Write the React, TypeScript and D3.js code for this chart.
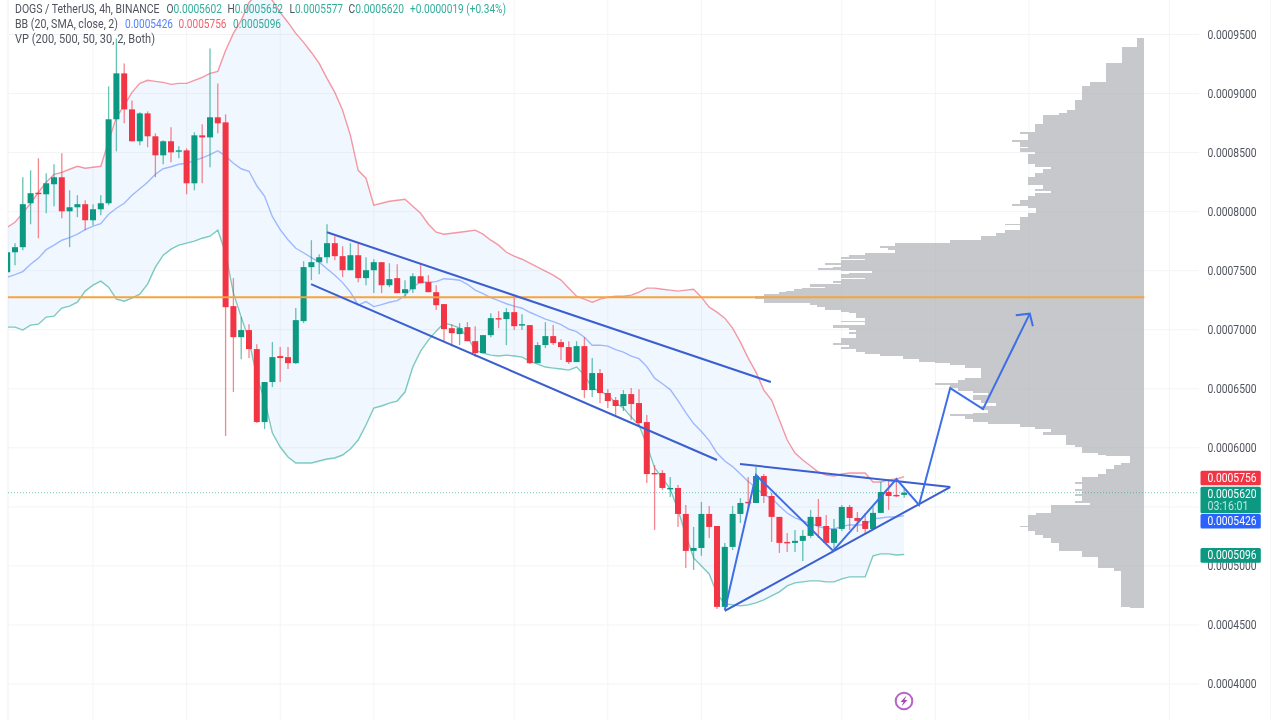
import React, { useLayoutEffect, useRef } from "react";
import * as d3 from "d3";

// Prices are in units of 0.0000001 USDT
const PRICE_UNIT = 1e-7;

const opens = [
  7487,7656,7699,8071,8160,8147,8232,8291,8003,8037,
  8063,7927,8020,8071,8782,9171,8866,8596,8832,8638,
  8477,8596,8511,8519,8240,8646,8629,8799,8756,7200,
  6937,6997,6836,6218,6557,6777,6768,6717,7073,7530,
  7572,7614,7733,7623,7504,7631,7437,7504,7572,7377,
  7437,7310,7343,7453,7403,7318,7217,7013,6963,7022,
  6903,6802,6954,7098,7090,7149,7039,7039,6717,6870,
  6946,6895,6853,6726,6861,6489,6633,6464,6404,6354,
  6455,6379,6218,5787,5787,5651,5660,5440,5127,5152,
  5440,5338,4653,5161,5440,5542,5533,5761,5592,5415,
  5203,5195,5212,5254,5415,5338,5195,5313,5499,5406,
  5381,5313,5449,5626,5601,5602,
];
const highs = [
  7673,7733,8291,8350,8452,8325,8401,8494,8181,8139,
  8096,8063,8139,9061,9467,9255,8942,8841,8849,8663,
  8604,8714,8553,8536,8672,8739,9382,9086,8824,7437,
  7107,7047,6878,6557,6895,6853,6853,7183,7580,7758,
  7640,7893,7792,7707,7733,7733,7614,7597,7572,7563,
  7555,7420,7479,7563,7462,7377,7217,7047,7056,7064,
  7030,6954,7140,7157,7183,7293,7132,7039,6895,7064,
  7039,6920,6903,6903,6937,6760,6667,6497,6430,6489,
  6506,6497,6278,5854,5812,5753,5685,5516,5330,5542,
  5508,5338,5194,5508,5575,5753,5837,5778,5618,5415,
  5279,5305,5305,5474,5567,5431,5398,5516,5516,5457,
  5449,5499,5711,5728,5736,5652,
];
const lows = [
  7479,7547,7673,7893,7775,7986,8046,7944,7699,7953,
  7843,7885,7970,8054,8511,8748,8596,8562,8545,8291,
  8401,8418,8452,8147,8181,8240,8376,8663,6100,6472,
  6751,6760,6210,6159,6514,6557,6667,6709,7056,7420,
  7470,7563,7589,7445,7504,7403,7377,7310,7310,7360,
  7310,7267,7310,7394,7318,7166,6903,6861,6870,6903,
  6768,6802,6937,7013,6870,6997,6997,6709,6717,6844,
  6870,6743,6709,6726,6421,6430,6379,6337,6278,6311,
  6235,6176,5702,5305,5643,5584,5330,4983,4966,5085,
  5237,4636,4653,5135,5364,5474,5533,5533,5203,5110,
  5118,5118,5042,5237,5237,5186,5135,5296,5305,5288,
  5279,5313,5449,5474,5584,5577,
];
const closes = [
  7656,7699,8063,8156,8152,8240,8291,8003,8037,8063,
  7927,8020,8071,8782,9171,8866,8596,8832,8638,8477,
  8596,8502,8519,8240,8646,8629,8799,8748,7191,6937,
  6997,6836,6218,6557,6768,6760,6717,7081,7530,7572,
  7614,7733,7623,7504,7631,7437,7504,7572,7377,7428,
  7310,7343,7453,7394,7318,7208,7005,6971,7013,6903,
  6802,6954,7098,7090,7149,7030,7047,6717,6870,6946,
  6887,6853,6726,6861,6489,6633,6464,6396,6354,6455,
  6371,6210,5778,5778,5660,5660,5440,5127,5152,5440,
  5330,4653,5161,5440,5533,5533,5761,5592,5415,5195,
  5195,5212,5254,5415,5338,5195,5313,5499,5406,5381,
  5313,5449,5626,5592,5592,5620,
];

const bbUpper = [
  7868,7910,7986,8071,8164,8249,8316,8333,8359,8384,
  8367,8376,8384,8596,8799,8900,9010,9086,9112,9103,
  9095,9078,9086,9086,9112,9137,9171,9188,9365,9509,
  9619,9771,9839,9856,9788,9687,9602,9509,9433,9348,
  9255,9128,9010,8858,8646,8350,8283,8054,8071,8088,
  8096,8105,8046,7986,7893,7826,7809,7817,7826,7834,
  7843,7809,7758,7716,7656,7623,7597,7563,7530,7496,
  7462,7420,7352,7284,7259,7233,7259,7276,7284,7284,
  7293,7318,7352,7352,7343,7335,7327,7335,7343,7276,
  7191,7149,7098,7013,6895,6760,6641,6489,6404,6235,
  6066,5956,5897,5846,5795,5770,5761,5778,5787,5787,
  5787,5711,5711,5728,5736,5756,
];
const bbLower = [
  7022,7022,6997,7039,7047,7107,7115,7183,7200,7233,
  7327,7377,7411,7360,7259,7242,7267,7301,7386,7530,
  7631,7682,7716,7733,7750,7775,7792,7843,7648,7310,
  7107,6912,6599,6404,6125,6007,5922,5871,5871,5871,
  5888,5905,5914,5939,5990,6066,6193,6337,6354,6379,
  6396,6472,6684,6819,6912,6988,7056,7039,7013,6937,
  6827,6802,6785,6777,6785,6777,6768,6734,6709,6684,
  6675,6667,6658,6684,6616,6506,6481,6447,6379,6337,
  6260,6193,6024,5829,5744,5651,5474,5262,5068,5000,
  4932,4763,4678,4670,4662,4670,4687,4712,4746,4780,
  4831,4856,4865,4873,4873,4865,4865,4890,4907,4907,
  4907,5085,5102,5102,5093,5096,
];
const bbBasis = [
  7445,7466,7492,7555,7606,7678,7716,7758,7780,7809,
  7847,7877,7898,7978,8029,8071,8139,8194,8249,8317,
  8363,8380,8401,8410,8431,8456,8482,8516,8470,8410,
  8363,8342,8219,8130,7957,7847,7762,7690,7652,7610,
  7572,7517,7462,7399,7318,7208,7238,7196,7212,7233,
  7246,7288,7365,7402,7402,7407,7432,7428,7419,7385,
  7335,7305,7271,7246,7220,7200,7182,7148,7119,7090,
  7068,7043,7005,6984,6937,6869,6870,6861,6831,6810,
  6776,6755,6688,6590,6543,6493,6400,6298,6205,6138,
  6061,5956,5888,5841,5778,5715,5664,5600,5575,5507,
  5448,5406,5381,5360,5334,5317,5313,5334,5347,5347,
  5347,5398,5406,5415,5414,5426,
];

// Visible range profile: price at the top of each step, and its volume (relative)
const vpLevels = [
  9473,9393,9258,9097,9063,8948,8864,8838,8821,8745,8672,8661,8610,8593,8547,8536,8508,8491,8407,8378,
  8359,8327,8293,8223,8195,8175,8158,8133,8102,8063,8046,8031,7992,7955,7899,7885,7848,7817,7792,7764,
  7738,7710,7696,7673,7651,7631,7617,7603,7589,7569,7561,7546,7532,7519,7504,7496,7481,7468,7442,7428,
  7414,7392,7383,7363,7354,7341,7329,7316,7301,7287,7256,7228,7208,7189,7166,7152,7138,7096,7075,7062,
  7039,7011,6997,6977,6963,6927,6889,6870,6855,6838,6813,6793,6776,6749,6728,6715,6700,6673,6588,6574,
  6546,6529,6503,6483,6461,6447,6404,6376,6354,6320,6297,6286,6269,6241,6221,6201,6173,6157,6136,6108,
  6024,6004,5953,5939,5931,5874,5854,5818,5778,5750,5713,5694,5652,5635,5609,5593,5552,5531,5516,5451,
  5431,5338,5327,5299,5262,5234,5192,5130,5079,4981,4961,4656,4642,
];
const vpVolumes = [
  7,22,38,54,62,69,77,85,101,109,124,116,132,124,116,124,109,116,109,93,
  101,109,116,101,109,93,109,116,124,132,116,108,116,124,139,124,139,148,163,194,
  249,264,256,249,279,295,303,279,303,311,319,303,311,326,303,272,295,303,279,303,
  311,303,334,319,342,350,358,365,380,389,380,334,327,319,303,295,288,279,303,279,
  311,295,288,295,288,303,311,295,303,288,279,264,241,225,209,194,179,163,179,186,
  209,194,186,171,156,171,163,148,163,156,171,194,179,171,156,124,109,93,101,78,
  69,62,46,38,14,23,30,38,46,62,69,62,69,62,69,62,69,54,93,108,
  116,124,116,109,101,93,85,62,46,30,23,14,
];

const priceTicks = [9500,9000,8500,8000,7500,7000,6500,6000,5500,5000,4500,4000];
const priceLabels = [9500,9000,8500,8000,7500,7000,6500,6000,5000,4500,4000];
const timeGrid = [11,23,35,47,65,77,89,107,119,131,149];
const keyLevel = 7276;
const lastPrice = 5620;

// Drawings: bar index / price anchors
const channelTop = [[41,7826],[97.9,6557]];
const channelBottom = [[38.95,7386],[91,5897]];
const triangleTop = [[93.95,5863],[120.9,5668]];
const triangleBottom = [[92,4619],[120.9,5668]];
const forecastPath = [[92,4627],[96,5770],[105.9,5127],[114,5736],[116.9,5516],[120.9,6506],[125.1,6328],[131.1,7136]];
const forecastHead = [[129.3,7123],[131.1,7136],[131.5,7030]];

const legendHeader = "DOGS / TetherUS, 4h, BINANCE";
const legendOHLC = [["O","0.0005602"],["H","0.0005652"],["L","0.0005577"],["C","0.0005620"]];
const legendChange = "+0.0000019 (+0.34%)";
const legendBB = "BB (20, SMA, close, 2)";
const legendBBValues = ["0.0005426","0.0005756","0.0005096"];
const legendVP = "VP (200, 500, 50, 30, 2, Both)";
const countdown = "03:16:01";

const GREEN = "#089981";
const RED = "#F23645";
const BLUE = "#2962FF";
const FONT = "Roboto, 'Liberation Sans', sans-serif";
const TEXT = "#50535E";

// Text condensed horizontally so it spans exactly `width` pixels
function FitText({ x, y, width, children, ...rest }: any) {
  const ref = useRef<SVGTextElement>(null);
  useLayoutEffect(() => {
    const n = ref.current as SVGTextElement;
    const natural = n.getComputedTextLength();
    n.setAttribute("transform", `translate(${x} ${y}) scale(${width / natural} 1)`);
  }, [x, y, width]);
  return <text ref={ref} transform={`translate(${x} ${y})`} fontFamily={FONT} fontSize={12.2} {...rest}>{children}</text>;
}

export default function App() {
  const W = 1280, H = 720;
  const left = 8, axisLeft = 1199;
  const x = d3.scaleLinear().domain([0, 149]).range([7.2, 7.2 + 7.8 * 149]);
  const y = d3.scaleLinear().domain([4000, 9500]).range([684, 34.5]);
  const vpRight = x(145.78);
  const vw = d3.scaleLinear().domain([0, d3.max(vpVolumes) as number]).range([0, 389]);

  const idx = d3.range(opens.length);
  const band = d3.area<number>().x(i => x(i)).y0(i => y(bbLower[i])).y1(i => y(bbUpper[i]))(idx) as string;
  const lineOf = (s: number[]) => d3.line<number>().x(i => x(i)).y(i => y(s[i]))(idx) as string;
  const drawing = d3.line<number[]>().x(d => x(d[0])).y(d => y(d[1]));
  const fmt = (v: number) => (v * PRICE_UNIT).toFixed(7);

  const labels = [
    { value: bbUpper[115], color: RED, top: 470.7, h: 14.6 },
    { value: bbBasis[115], color: BLUE, top: 514, h: 14.6 },
    { value: bbLower[115], color: GREEN, top: 548, h: 14.8 },
  ];

  return (
    <svg width={W} height={H} viewBox={`0 0 ${W} ${H}`} style={{ position: "fixed", left: 0, top: 0, background: "#fff", display: "block" }}>
      <defs>
        <clipPath id="pane"><rect x={left} y={0} width={axisLeft - left} height={H} /></clipPath>
        <filter id="soft" x="0" y="0" width="100%" height="100%"><feGaussianBlur stdDeviation="0.5" /></filter>
      </defs>
      <g filter="url(#soft)">
        <line x1={8} x2={8} y1={0} y2={H} stroke="#eeeff1" />
        <line x1={1271} x2={1271} y1={0} y2={H} stroke="#eeeff1" />
        <g clipPath="url(#pane)">
          {priceTicks.map(t => <line key={t} x1={left} x2={axisLeft} y1={y(t)} y2={y(t)} stroke="#f3f4f6" />)}
          {timeGrid.map(t => <line key={t} x1={x(t)} x2={x(t)} y1={0} y2={H} stroke="#f3f4f6" />)}
          <path d={band} fill="#3F98FF" fillOpacity={0.075} />
          <path d={lineOf(bbUpper)} fill="none" stroke={RED} strokeOpacity={0.5} strokeWidth={1.4} />
          <path d={lineOf(bbLower)} fill="none" stroke={GREEN} strokeOpacity={0.5} strokeWidth={1.4} />
          <path d={lineOf(bbBasis)} fill="none" stroke={BLUE} strokeOpacity={0.42} strokeWidth={1.4} />
          {vpVolumes.map((v, i) => (
            <rect key={i} x={vpRight - vw(v)} width={vw(v)} y={y(vpLevels[i])} height={y(vpLevels[i + 1]) - y(vpLevels[i])} fill="#b1b3b8" fillOpacity={0.72} shapeRendering="crispEdges" />
          ))}
          <line x1={left} x2={axisLeft} y1={y(lastPrice)} y2={y(lastPrice)} stroke={GREEN} strokeOpacity={0.55} strokeDasharray="1 2" />
          {idx.map(i => {
            const up = closes[i] >= opens[i];
            const color = up ? GREEN : RED;
            const top = Math.min(y(opens[i]), y(closes[i]));
            const h = Math.max(1.4, Math.abs(y(opens[i]) - y(closes[i])));
            return (
              <g key={i}>
                <line x1={x(i)} x2={x(i)} y1={y(highs[i])} y2={y(lows[i])} stroke={color} strokeOpacity={0.6} strokeWidth={1.3} />
                <rect x={x(i) - 3} width={6} y={top} height={h} fill={color} />
              </g>
            );
          })}
          <line x1={left} x2={vpRight} y1={y(keyLevel)} y2={y(keyLevel)} stroke="#F5A53E" strokeWidth={2} />
          {[channelTop, channelBottom, triangleTop, triangleBottom].map((d, i) => (
            <path key={i} d={drawing(d) as string} fill="none" stroke="#3B5FD0" strokeWidth={2} />
          ))}
          <path d={drawing(forecastPath) as string} fill="none" stroke="#3E6FE6" strokeWidth={2} strokeLinejoin="miter" />
          <path d={drawing(forecastHead) as string} fill="none" stroke="#3E6FE6" strokeWidth={2} />
          <circle cx={904} cy={701} r={8.3} fill="#fff" stroke="#B565C6" strokeWidth={2} />
          <path d="M906.5 695.5 L900.5 702 L903.5 702 L901.5 706.5 L907.5 700 L904.5 700 Z" fill="#AB47BC" />
        </g>

        {priceLabels.map(t => (
          <FitText key={t} x={1207.5} y={y(t) + 4.3} width={49} fill={TEXT}>{fmt(t)}</FitText>
        ))}

        {labels.map((l, i) => (
          <g key={i}>
            <rect x={1200.5} y={l.top} width={60.3} height={l.h} rx={1.5} fill={l.color} />
            <FitText x={1207.5} y={l.top + 11.3} width={49} fill="#fff">{fmt(l.value)}</FitText>
          </g>
        ))}
        <rect x={1200.5} y={486.7} width={60.3} height={26.6} rx={1.5} fill={GREEN} />
        <FitText x={1207.5} y={498} width={49} fill="#fff">{fmt(lastPrice)}</FitText>
        <FitText x={1207.5} y={510.3} width={41} fill="#fff" fillOpacity={0.75}>{countdown}</FitText>

        <FitText x={15} y={13.3} width={144.5} fill={TEXT}>{legendHeader}</FitText>
        {legendOHLC.map(([k, v], i) => {
          const kx = [166.5, 227.5, 289.5, 348.5][i];
          const kw = [55.5, 55.5, 53.5, 55.5][i];
          return (
            <FitText key={k} x={kx} y={13.3} width={kw}>
              <tspan fill={TEXT}>{k}</tspan>
              <tspan fill={GREEN} fillOpacity={0.8}>{v}</tspan>
            </FitText>
          );
        })}
        <FitText x={410} y={13.3} width={96} fill={GREEN} fillOpacity={0.8}>{legendChange}</FitText>
        <FitText x={15} y={28.3} width={103} fill={TEXT}>{legendBB}</FitText>
        <FitText x={125} y={28.3} width={48} fill={BLUE} fillOpacity={0.8}>{legendBBValues[0]}</FitText>
        <FitText x={178.5} y={28.3} width={48} fill={RED} fillOpacity={0.8}>{legendBBValues[1]}</FitText>
        <FitText x={233} y={28.3} width={48} fill={GREEN} fillOpacity={0.8}>{legendBBValues[2]}</FitText>
        <FitText x={15} y={43.3} width={140} fill={TEXT}>{legendVP}</FitText>
      </g>
    </svg>
  );
}
